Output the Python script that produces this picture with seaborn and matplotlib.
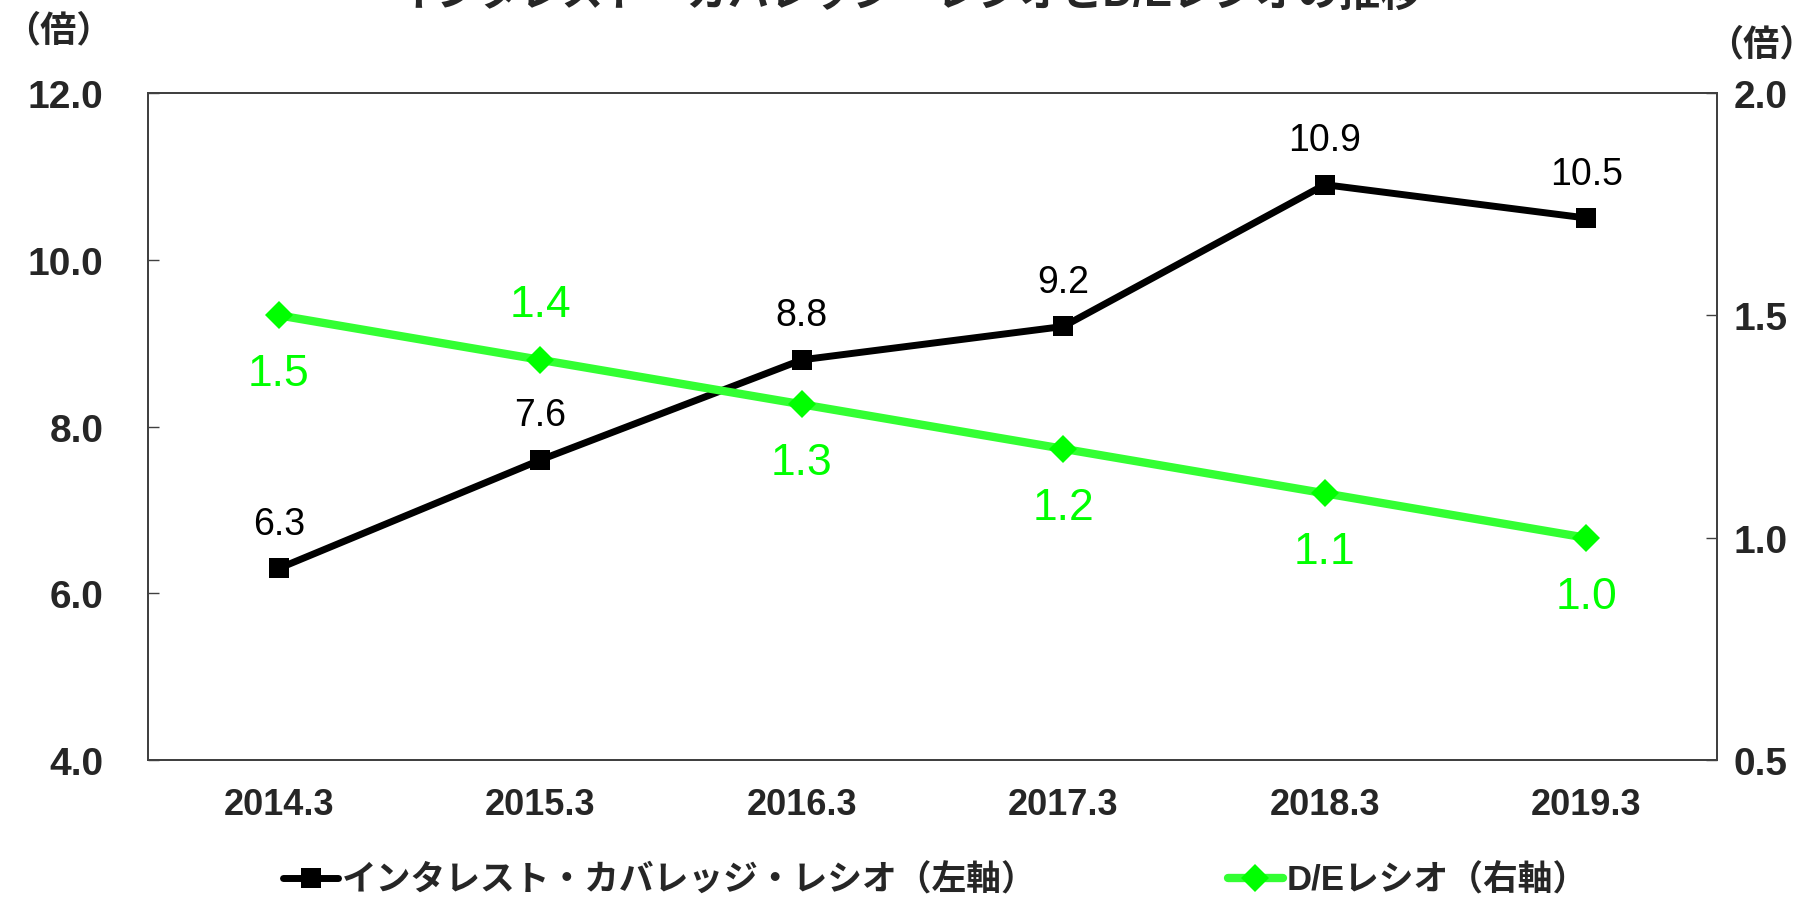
import pandas as pd
import matplotlib.pyplot as plt
import seaborn as sns
from matplotlib.lines import Line2D

# data
years = ['2014.3', '2015.3', '2016.3', '2017.3', '2018.3', '2019.3']
icr = [6.3, 7.6, 8.8, 9.2, 10.9, 10.5]          # インタレスト・カバレッジ・レシオ (left)
de_ratio = [1.5, 1.4, 1.3, 1.2, 1.1, 1.0]       # D/Eレシオ (right)
de_label_above = [False, True, False, False, False, False]

title = 'インタレスト・カバレッジ・レシオとD/Eレシオの推移'
icr_name = 'インタレスト・カバレッジ・レシオ（左軸）'
de_name = 'D/Eレシオ（右軸）'

sns.set_theme(style='white')
plt.rcParams['font.family'] = ['Liberation Sans', 'Noto Sans CJK JP', 'DejaVu Sans']

GREEN_LINE = '#33ff33'
GREEN_MARK = '#00ff00'

df = pd.DataFrame({'pos': range(len(years)), 'year': years, 'icr': icr, 'de': de_ratio})

fig = plt.figure(figsize=(18.17, 9.03), dpi=100)
ax = fig.add_axes([0.0815, 0.157, 0.8635, 0.739])
ax2 = ax.twinx()

sns.lineplot(data=df, x='pos', y='icr', ax=ax, color='black', linewidth=5,
             marker='s', markersize=14, markeredgewidth=0, zorder=3)
sns.lineplot(data=df, x='pos', y='de', ax=ax2, color=GREEN_LINE, linewidth=6,
             marker='D', markersize=14, markerfacecolor=GREEN_MARK,
             markeredgewidth=0, zorder=3)

# data labels
for x, v in zip(df['pos'], icr):
    ax.annotate(f'{v:.1f}', (x, v), xytext=(0, 32), textcoords='offset points',
                ha='center', va='center', fontsize=27, color='black')
for x, v, up in zip(df['pos'], de_ratio, de_label_above):
    ax2.annotate(f'{v:.1f}', (x, v), xytext=(0, 40 if up else -42),
                 textcoords='offset points', ha='center', va='center',
                 fontsize=32, color=GREEN_MARK)

# axes, ticks
ax.set_xlim(-0.5, len(years) - 0.5)
ax.set_ylim(4, 12)
ax2.set_ylim(0.5, 2.0)
ax.set_yticks([4, 6, 8, 10, 12])
ax.set_yticklabels([f'{t:.1f}' for t in [4, 6, 8, 10, 12]])
ax2.set_yticks([0.5, 1.0, 1.5, 2.0])
ax2.set_yticklabels([f'{t:.1f}' for t in [0.5, 1.0, 1.5, 2.0]])
ax.set_xticks(range(len(years)))
ax.set_xticklabels(years)
ax.set_xticks([i + 0.5 for i in range(len(years) - 1)], minor=True)
ax.set_xlabel('')
ax.set_ylabel('')
ax2.set_ylabel('')

ax.tick_params(axis='x', which='major', length=0, pad=19, labelsize=26)
ax.tick_params(axis='x', which='minor', direction='in', length=8, width=1, color='#404040')
ax.tick_params(axis='y', direction='in', length=8, width=1, color='#404040',
               pad=32, labelsize=28, left=True)
ax2.tick_params(axis='y', direction='in', length=8, width=1, color='#404040',
                pad=12, labelsize=28, right=True)
for lab in ax.get_xticklabels() + ax.get_yticklabels() + ax2.get_yticklabels():
    lab.set_fontweight('bold')

for a in (ax, ax2):
    for s in a.spines.values():
        s.set_visible(True)
        s.set_color('#404040')
        s.set_linewidth(1.3)
ax.grid(False)
ax2.grid(False)

# unit labels and (clipped, as in the source) title
fig.text(0.002, 0.965, '（倍）', fontsize=26, fontweight='bold', ha='left', va='center')
fig.text(0.999, 0.949, '（倍）', fontsize=26, fontweight='bold', ha='right', va='center')
fig.text(0.5, 1.006, title, fontsize=30, fontweight='bold', ha='center', va='center')

# legend, two entries placed apart
h1 = Line2D([], [], color='black', linewidth=5, marker='s', markersize=14, markeredgewidth=0)
h2 = Line2D([], [], color=GREEN_LINE, linewidth=6, marker='D', markersize=14,
            markerfacecolor=GREEN_MARK, markeredgewidth=0)
for h, name, x0 in [(h1, icr_name, 0.148), (h2, de_name, 0.668)]:
    fig.legend(handles=[h], labels=[name], loc='center left', bbox_to_anchor=(x0, 0.024),
               frameon=False, handlelength=1.6, handletextpad=0.1, borderaxespad=0,
               prop={'size': 25, 'weight': 'bold'})

fig.savefig('out.png', dpi=100)
